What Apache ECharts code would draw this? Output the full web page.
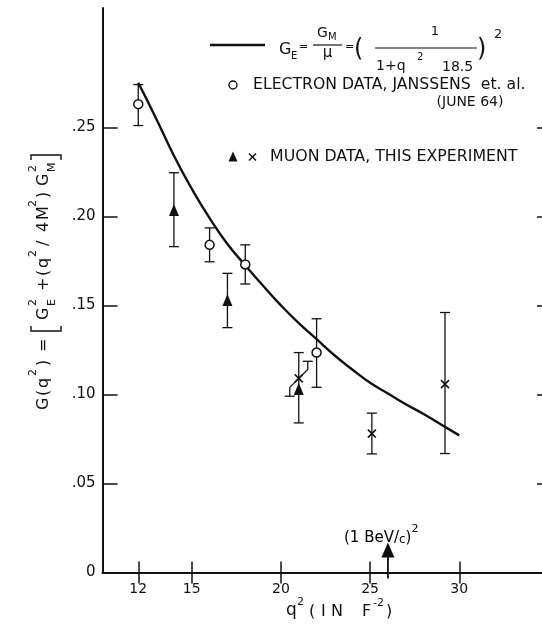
<!DOCTYPE html>
<html>
<head>
<meta charset="utf-8">
<script src="https://cdn.jsdelivr.net/npm/echarts@6/dist/echarts.min.js"></script>
<style>
html, body { margin: 0; padding: 0; background: #fff; }
#chart { width: 542px; height: 624px; }
</style>
</head>
<body>
<div id="chart"></div>
<script>
// fitted curve  G_E = G_M/mu = (1/(1+q^2/18.5))^2
var curveQ2 = [12, 13, 14, 15, 16, 17, 18, 19, 20, 21, 22, 23, 24, 25, 26, 27, 28, 29, 30];
var curveG = [0.275, 0.255, 0.234, 0.2155, 0.199, 0.1845, 0.1725, 0.161, 0.150, 0.140, 0.131,
              0.122, 0.114, 0.1065, 0.1005, 0.0945, 0.089, 0.083, 0.077];

// electron data, Janssens et al. (June 64)
var elecQ2 = [12, 16, 18, 22];
var elecG  = [0.263, 0.184, 0.173, 0.1235];
var elecLo = [0.251, 0.1745, 0.162, 0.104];
var elecHi = [0.274, 0.1935, 0.184, 0.1425];

// muon data, this experiment - triangles
var muTriQ2 = [14, 17, 21];
var muTriG  = [0.2035, 0.153, 0.103];
var muTriLo = [0.183, 0.1375, 0.084];
var muTriHi = [0.2245, 0.168, 0.1235];

// muon data, this experiment - crosses
var muXQ2 = [21, 25.1, 29.2];
var muXG  = [0.109, 0.078, 0.1058];
var muXLo = [0.099, 0.0666, 0.0668];
var muXHi = [0.1186, 0.0895, 0.146];

var xTicks = [12, 15, 20, 25, 30];
var yTicks = [0.05, 0.10, 0.15, 0.20, 0.25];
var yLabels = [0, 0.05, 0.10, 0.15, 0.20, 0.25];
var arrowQ2 = [26];   // (1 BeV/c)^2

var FONT = 'DejaVu Sans';
var INK = '#111';

function pairs(xs, ys) {
  return xs.map(function (x, i) { return [x, ys[i]]; });
}
function bars(xs, ys, lo, hi) {
  return xs.map(function (x, i) { return [x, lo[i], hi[i], ys[i]]; });
}

// error bar; the first muon cross has its bar drawn with a dog-leg
function errBar(bentFirst) {
  return function (params, api) {
    var x = api.value(0);
    var c = api.coord([x, api.value(3)]);
    var lo = api.coord([x, api.value(1)]);
    var hi = api.coord([x, api.value(2)]);
    var w = 5;
    var st = { stroke: INK, lineWidth: 1.3, fill: null };
    var b = (bentFirst && params.dataIndex === 0) ? 9 : 0;
    return {
      type: 'group',
      children: [
        { type: 'polyline', shape: { points: [c, [c[0] - b, c[1] + b], [c[0] - b, lo[1]]] }, style: st },
        { type: 'polyline', shape: { points: [c, [c[0] + b, c[1] - b], [c[0] + b, hi[1]]] }, style: st },
        { type: 'line', shape: { x1: c[0] - b - w, y1: lo[1], x2: c[0] - b + w, y2: lo[1] }, style: st },
        { type: 'line', shape: { x1: c[0] + b - w, y1: hi[1], x2: c[0] + b + w, y2: hi[1] }, style: st }
      ]
    };
  };
}

function txt(x, y, s, size, align) {
  return {
    type: 'text', x: x, y: y, z: 10,
    style: { text: s, font: size + 'px ' + FONT, fill: INK, align: align || 'left', verticalAlign: 'middle' }
  };
}
function seg(x1, y1, x2, y2, w) {
  return { type: 'line', z: 10, shape: { x1: x1, y1: y1, x2: x2, y2: y2 }, style: { stroke: INK, lineWidth: w || 1.3 } };
}

var chart = echarts.init(document.getElementById('chart'));

// y axis title, written bottom-to-top
var Y0 = -3, SUP = -14, SUB = 5;
var yTitle = {
  type: 'group', x: 47, y: 410, rotation: Math.PI / 2,
  children: [
    txt(0, Y0, 'G', 16), txt(14, Y0, '(', 16), txt(22, Y0, 'q', 16), txt(34, SUP, '2', 11),
    txt(44, Y0, ')', 16), txt(58, Y0, '=', 16),
    { type: 'polyline', shape: { points: [[84, -16], [79, -16], [79, 14], [84, 14]] }, style: { stroke: INK, lineWidth: 1.4, fill: null } },
    txt(90, Y0, 'G', 16), txt(104, SUP, '2', 11), txt(104, SUB, 'E', 11),
    txt(119, Y0, '+', 16), txt(134, Y0, '(', 16), txt(142, Y0, 'q', 16), txt(153, SUP, '2', 11),
    txt(164, Y0, '/', 16), txt(178, Y0, '4', 16), txt(190, Y0, 'M', 16), txt(203, SUP, '2', 11),
    txt(212, Y0, ')', 16),
    txt(224, Y0, 'G', 16), txt(238, SUP, '2', 11), txt(238, SUB, 'M', 11),
    { type: 'polyline', shape: { points: [[250, -16], [255, -16], [255, 14], [250, 14]] }, style: { stroke: INK, lineWidth: 1.4, fill: null } }
  ]
};

// x axis title  q^2 (IN F^-2)
var xTitle = [
  txt(286, 611, 'q', 17), txt(297, 602, '2', 11),
  txt(309, 612, '(', 16), txt(321, 612, 'I', 16), txt(331, 612, 'N', 16), txt(362, 612, 'F', 16),
  txt(373, 603, '-2', 11), txt(386, 612, ')', 16)
];

// legend, drawn as on the original figure
var ELEC_Y = 85, JUNE_Y = 102, MU_Y = 157;
var legend = [
  seg(210, 45, 265, 45, 2.5),
  txt(279, 50, 'G', 16), txt(291, 56, 'E', 10), txt(299, 47, '=', 11),
  txt(317, 33, 'G', 14), txt(328, 37, 'M', 10), seg(313, 45, 342, 45, 1.2), txt(327.5, 53, 'μ', 15, 'center'),
  txt(345, 47, '=', 11),
  txt(354, 50, '(', 24), txt(435, 32, '1', 13, 'center'), seg(375, 48, 477, 48, 1.2),
  txt(376, 66, '1+q', 14), txt(417, 57, '2', 10), txt(442, 67, '18.5', 14),
  txt(477, 50, ')', 24), txt(494, 35, '2', 13),
  { type: 'circle', z: 10, shape: { cx: 233, cy: ELEC_Y, r: 4 }, style: { fill: '#fff', stroke: INK, lineWidth: 1.4 } },
  txt(253, ELEC_Y, 'ELECTRON DATA, JANSSENS  et. al.', 15.7),
  txt(470, JUNE_Y, '(JUNE 64)', 14, 'center'),
  { type: 'polygon', z: 10, shape: { points: [[233, MU_Y - 5.5], [228.5, MU_Y + 4.5], [237.5, MU_Y + 4.5]] }, style: { fill: INK } },
  seg(249, MU_Y - 3.5, 256, MU_Y + 3.5, 1.5), seg(249, MU_Y + 3.5, 256, MU_Y - 3.5, 1.5),
  txt(270, MU_Y, 'MUON DATA, THIS EXPERIMENT', 15.8)
];

var richSup = {
  a: { font: '15px ' + FONT, color: INK, lineHeight: 22, verticalAlign: 'bottom' },
  s: { font: '11px ' + FONT, color: INK, lineHeight: 11, verticalAlign: 'top' },
  b: { font: '12px ' + FONT, color: INK, lineHeight: 16, verticalAlign: 'bottom' }
};

var option = {
  backgroundColor: '#fff',
  animation: false,
  grid: { left: 102.6, right: 0, top: 8, bottom: 51.5 },
  xAxis: [{
    type: 'value', min: 10, max: 34.64,
    axisLine: { lineStyle: { color: INK, width: 2 } },
    axisTick: { inside: true, length: 11, customValues: xTicks, lineStyle: { color: INK, width: 1.5 } },
    axisLabel: { customValues: xTicks, margin: 10, color: INK, fontFamily: FONT, fontSize: 14 },
    splitLine: { show: false }
  }, {
    type: 'value', min: 10, max: 34.64, position: 'top',
    axisLine: { lineStyle: { color: INK, width: 2 } },
    axisTick: { inside: true, length: 11, customValues: xTicks, lineStyle: { color: INK, width: 1.5 } },
    axisLabel: { show: false },
    splitLine: { show: false }
  }],
  yAxis: [{
    type: 'value', min: 0, max: 0.317,
    axisLine: { show: true, lineStyle: { color: INK, width: 2 } },
    axisTick: { show: true, inside: true, length: 15, customValues: yTicks, lineStyle: { color: INK, width: 1.5 } },
    axisLabel: {
      customValues: yLabels, margin: 7, color: INK, fontFamily: FONT, fontSize: 15,
      formatter: function (v) { return v === 0 ? '0' : v.toFixed(2).slice(1); }
    },
    splitLine: { show: false }
  }, {
    type: 'value', min: 0, max: 0.317, position: 'right',
    axisLine: { show: false },
    axisTick: { show: true, inside: true, length: 5, customValues: yTicks, lineStyle: { color: INK, width: 1.5 } },
    axisLabel: { show: false },
    splitLine: { show: false }
  }],
  graphic: [
    yTitle,
    {
      type: 'text', left: 344, top: 524, z: 10,
      style: { text: '{a|(1 BeV/}{b|c}{a|)}{s|2}', rich: richSup }
    }
  ].concat(xTitle, legend),
  series: [{
    type: 'line', data: pairs(curveQ2, curveG), smooth: true, symbol: 'none',
    lineStyle: { color: INK, width: 2.4 }, z: 2
  }, {
    type: 'custom', data: bars(elecQ2, elecG, elecLo, elecHi), renderItem: errBar(false), z: 3
  }, {
    type: 'custom', data: bars(muTriQ2, muTriG, muTriLo, muTriHi), renderItem: errBar(false), z: 3
  }, {
    type: 'custom', data: bars(muXQ2, muXG, muXLo, muXHi), renderItem: errBar(true), z: 3
  }, {
    type: 'scatter', data: pairs(elecQ2, elecG), symbol: 'circle', symbolSize: 9,
    itemStyle: { color: '#fff', borderColor: INK, borderWidth: 1.5, opacity: 1 }, z: 5
  }, {
    type: 'scatter', data: pairs(muTriQ2, muTriG), symbol: 'triangle', symbolSize: [10, 12],
    itemStyle: { color: INK, opacity: 1 }, z: 5
  }, {
    type: 'scatter', data: pairs(muXQ2, muXG), symbol: 'path://M0 0L10 10M10 0L0 10', symbolSize: 8,
    itemStyle: { color: 'none', borderColor: INK, borderWidth: 1.6, opacity: 1 }, z: 5
  }, {
    type: 'custom', data: arrowQ2.map(function (q) { return [q, 0]; }), clip: false, z: 6,
    renderItem: function (params, api) {
      var p = api.coord([api.value(0), api.value(1)]);
      return {
        type: 'group',
        children: [
          { type: 'line', shape: { x1: p[0], y1: p[1] + 6, x2: p[0], y2: p[1] - 18 }, style: { stroke: INK, lineWidth: 1.8 } },
          { type: 'polygon', shape: { points: [[p[0], p[1] - 30], [p[0] - 6.5, p[1] - 15], [p[0] + 6.5, p[1] - 15]] }, style: { fill: INK } }
        ]
      };
    }
  }]
};

chart.setOption(option);
</script>
</body>
</html>
